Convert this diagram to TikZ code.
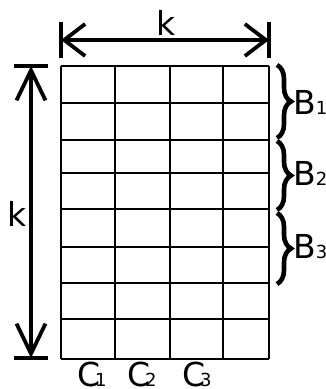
\documentclass[tikz,border=0pt]{standalone}
\usepackage{fontspec}
\setmainfont{DejaVu Sans}
\usetikzlibrary{arrows.meta,decorations.pathreplacing}
\tikzset{
  gridline/.style={line width=2.1pt, black},
  dimline/.style={line width=3.8pt, black},
  barline/.style={line width=3.8pt, black},
  hhead/.tip={Straight Barb[length=21pt,width=32pt]},
  vhead/.tip={Straight Barb[length=30pt,width=29pt]},
  bracestyle/.style={line width=4.6pt, decorate, decoration={brace, amplitude=14pt, aspect=0.5}},
  lbl/.style={inner sep=0pt, anchor=base, font=\fontsize{33}{35}\selectfont}
}
\newcommand{\sbs}[1]{{\fontsize{18}{18}\selectfont #1}}
\begin{document}
\begin{tikzpicture}[x=1pt,y=-1pt]
\useasboundingbox (0,0) rectangle (326,389);
% grid
\foreach \x in {61,115,170,223,269} \draw[gridline] (\x,66) -- (\x,359);
\foreach \y in {66,103,140,173,209,247,283,319,359} \draw[gridline] (61,\y) -- (269,\y);
% top dimension
\coordinate (tl) at (61,40);
\coordinate (tr) at (269,40);
\coordinate (tlA) at (61,22);
\coordinate (tlB) at (61,58);
\coordinate (trA) at (269,22);
\coordinate (trB) at (269,58);
\draw[barline] (tlA) -- (tlB);
\draw[barline] (trA) -- (trB);
\draw[dimline, hhead-hhead] (tl) -- (tr);
\node[lbl] (ktop) at (166,35) {k};
% left dimension
\coordinate (lt) at (31,66);
\coordinate (lb) at (31,358);
\coordinate (ltA) at (14,66);
\coordinate (ltB) at (48,66);
\coordinate (lbA) at (14,358);
\coordinate (lbB) at (48,358);
\draw[barline] (ltA) -- (ltB);
\draw[barline] (lbA) -- (lbB);
\draw[dimline, vhead-vhead] (lt) -- (lb);
\node[lbl] (kleft) at (17,226) {k};
% braces
\coordinate (b1a) at (277,65);
\coordinate (b1b) at (277,138);
\coordinate (b2a) at (277,141);
\coordinate (b2b) at (277,210);
\coordinate (b3a) at (277,213);
\coordinate (b3b) at (277,284);
\draw[bracestyle] (b1a) -- (b1b);
\draw[bracestyle] (b2a) -- (b2b);
\draw[bracestyle] (b3a) -- (b3b);
\node[lbl, anchor=base west] (B1) at (293,114) {B\sbs{1}};
\node[lbl, anchor=base west] (B2) at (293,185) {B\sbs{2}};
\node[lbl, anchor=base west] (B3) at (293,258) {B\sbs{3}};
% column labels
\node[lbl, anchor=base west] (C1) at (77,386) {C\kern-5pt\sbs{1}};
\node[lbl, anchor=base west] (C2) at (127,386) {C\kern-5pt\sbs{2}};
\node[lbl, anchor=base west] (C3) at (182,386) {C\kern-5pt\sbs{3}};
\end{tikzpicture}
\end{document}
